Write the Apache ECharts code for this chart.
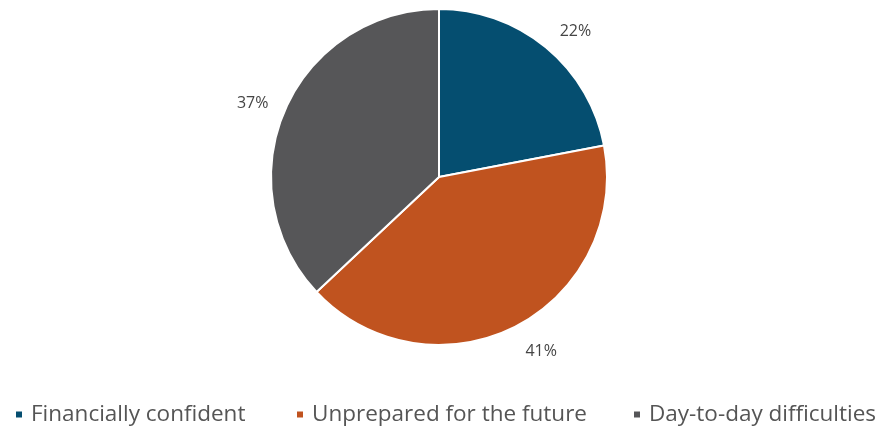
<!DOCTYPE html>
<html><head><meta charset="utf-8">
<script src="https://cdn.jsdelivr.net/npm/echarts@6/dist/echarts.min.js"></script>
<style>html,body{margin:0;padding:0;background:#fff}#c{width:878px;height:427px}</style>
</head><body><div id="c"></div>
<script>
const categories = ["Financially confident", "Unprepared for the future", "Day-to-day difficulties"];
const values = [22, 41, 37];
const colors = ["#054E70", "#C0531F", "#565658"];
const legendLefts = [14, 295, 632];
const labelOffsets = [[7, 11], [10, -6], [0, 7]];

const chart = echarts.init(document.getElementById('c'));
chart.setOption({
  animation: false,
  legend: categories.map((n, i) => ({
    data: [n], left: legendLefts[i], top: 403, padding: 0,
    icon: 'rect', itemWidth: 8, itemHeight: 8, itemGap: 8,
    textStyle: { fontSize: 22.5, color: '#555555', fontFamily: 'Open Sans', padding: [0, 0, 0, 3] }
  })),
  series: [
    {
      type: 'pie', center: [439, 177], radius: 168, startAngle: 90, clockwise: true,
      data: categories.map((n, i) => ({ name: n, value: values[i], itemStyle: { color: colors[i] } })),
      itemStyle: { borderColor: '#fff', borderWidth: 2 },
      label: { show: false }, labelLine: { show: false }
    },
    {
      type: 'pie', center: [439, 177], radius: [195, 205], startAngle: 90, clockwise: true,
      silent: true,
      data: categories.map((n, i) => ({ name: n, value: values[i], itemStyle: { color: 'rgba(0,0,0,0)' },
        label: { offset: labelOffsets[i] } })),
      label: { show: true, position: 'inside', formatter: '{c}%', fontSize: 16, color: '#454545', fontFamily: 'Open Sans' },
      labelLine: { show: false }
    }
  ]
});
</script></body></html>
